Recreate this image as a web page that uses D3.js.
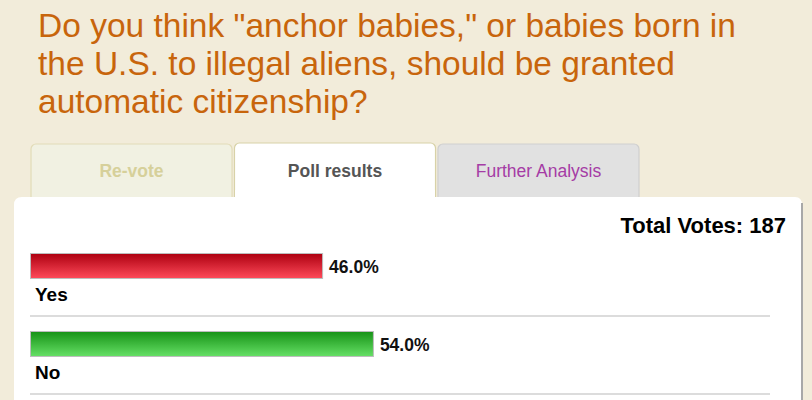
<!DOCTYPE html>
<html>
<head>
<meta charset="utf-8">
<script src="https://cdn.jsdelivr.net/npm/d3@7"></script>
<style>
  body { margin: 0; background: #f2ecda; }
  svg { display: block; font-family: "Liberation Sans", Arial, sans-serif; }
</style>
</head>
<body>
<div id="chart"></div>
<script>
// poll data
var questionLines = [
  'Do you think "anchor babies," or babies born in',
  'the U.S. to illegal aliens, should be granted',
  'automatic citizenship?'
];
var tabs = ['Re-vote', 'Poll results', 'Further Analysis'];
var answers = ['Yes', 'No'];
var percents = [46.0, 54.0];
var totalVotes = 187;

var W = 812, H = 400;
var svg = d3.select('#chart').append('svg')
    .attr('width', W)
    .attr('height', H);

var defs = svg.append('defs');
var grads = [
  {id: 'gRed', top: '#ad0010', bot: '#ff4a5a'},
  {id: 'gGreen', top: '#169216', bot: '#66e066'}
];
grads.forEach(function(g) {
  var lg = defs.append('linearGradient')
      .attr('id', g.id).attr('x1', 0).attr('y1', 0).attr('x2', 0).attr('y2', 1);
  lg.append('stop').attr('offset', '0%').attr('stop-color', g.top);
  lg.append('stop').attr('offset', '100%').attr('stop-color', g.bot);
});

// background
svg.append('rect').attr('width', W).attr('height', H).attr('fill', '#f2ecda');

// title
svg.append('g').selectAll('text')
    .data(questionLines).enter()
    .append('text')
      .attr('x', 38)
      .attr('y', function(d, i) { return 37 + i * 38; })
      .attr('fill', '#c8650c')
      .style('font-size', '33.5px')
      .text(function(d) { return d; });

// tabs
var tabX = d3.scaleBand().domain(tabs).range([31, 639]).paddingInner(0.012);
var tabStyle = {
  'Re-vote': {fill: '#f1f1e2', stroke: '#e2dcb8', color: '#d6d09a', weight: 'bold'},
  'Poll results': {fill: '#ffffff', stroke: '#d8d2a8', color: '#555555', weight: 'bold'},
  'Further Analysis': {fill: '#e1e1e1', stroke: '#cfcfcf', color: '#a53ca5', weight: 'normal'}
};
var tabG = svg.append('g').selectAll('g')
    .data(tabs).enter()
    .append('g');
tabG.append('rect')
    .attr('x', function(d) { return tabX(d); })
    .attr('y', function(d) { return d === 'Poll results' ? 143 : 144; })
    .attr('width', tabX.bandwidth())
    .attr('height', 70)
    .attr('rx', 5)
    .attr('fill', function(d) { return tabStyle[d].fill; })
    .attr('stroke', function(d) { return tabStyle[d].stroke; })
    .attr('stroke-width', 1.2);
tabG.append('text')
    .attr('x', function(d) { return tabX(d) + tabX.bandwidth() / 2; })
    .attr('y', 177)
    .attr('text-anchor', 'middle')
    .attr('fill', function(d) { return tabStyle[d].color; })
    .style('font-size', '17.5px')
    .style('font-weight', function(d) { return tabStyle[d].weight; })
    .text(function(d) { return d; });

// panel
svg.append('path')
    .attr('d', 'M14,' + H + ' L14,205 Q14,197 22,197 L795,197 Q802,197 802,205 L802,' + H + ' Z')
    .attr('fill', '#ffffff');
svg.append('line')
    .attr('x1', 802).attr('x2', 802).attr('y1', 203).attr('y2', H)
    .attr('stroke', '#a8a8a8').attr('stroke-width', 2);
// active tab joins panel
svg.append('rect')
    .attr('x', tabX('Poll results') + 0.6).attr('y', 190)
    .attr('width', tabX.bandwidth() - 1.2).attr('height', 10)
    .attr('fill', '#ffffff');

svg.append('text')
    .attr('x', 786).attr('y', 233)
    .attr('text-anchor', 'end')
    .attr('fill', '#000')
    .style('font-size', '22px')
    .style('font-weight', 'bold')
    .text('Total Votes: ' + totalVotes);

// bars
var x = d3.scaleLinear().domain([0, 100]).range([0, 635]);
var rowY = d3.scaleBand().domain(answers).range([253, 409]);
var fills = ['url(#gRed)', 'url(#gGreen)'];

var rows = svg.append('g').selectAll('g')
    .data(answers).enter()
    .append('g')
      .attr('transform', function(d) { return 'translate(30,' + rowY(d) + ')'; });

rows.append('rect')
    .attr('x', 0.5).attr('y', 0.5)
    .attr('width', function(d, i) { return x(percents[i]); })
    .attr('height', 25)
    .attr('fill', function(d, i) { return fills[i]; })
    .attr('stroke', '#bdbdbd')
    .attr('stroke-width', 1);

rows.append('text')
    .attr('x', function(d, i) { return x(percents[i]) + 7; })
    .attr('y', 20)
    .attr('fill', '#111')
    .style('font-size', '17.5px')
    .style('font-weight', 'bold')
    .text(function(d, i) { return percents[i].toFixed(1) + '%'; });

rows.append('text')
    .attr('x', 5)
    .attr('y', 48)
    .attr('fill', '#000')
    .style('font-size', '19px')
    .style('font-weight', 'bold')
    .text(function(d) { return d; });

rows.append('line')
    .attr('x1', 0).attr('x2', 740)
    .attr('y1', 63).attr('y2', 63)
    .attr('stroke', '#dcdcdc')
    .attr('stroke-width', 2);
</script>
</body>
</html>
